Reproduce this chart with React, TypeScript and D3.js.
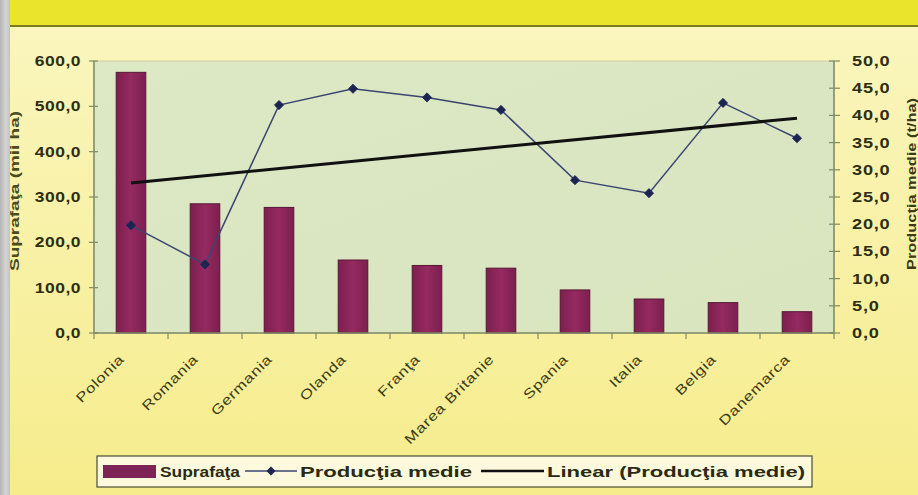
import React from "react";
import * as d3 from "d3";

const categories = ["Polonia", "Romania", "Germania", "Olanda", "Franţa", "Marea Britanie", "Spania", "Italia", "Belgia", "Danemarca"];
const suprafata = [575, 285, 277, 161, 149, 143, 95, 75, 67, 47];
const productia = [19.8, 12.6, 41.9, 44.9, 43.3, 41.0, 28.1, 25.7, 42.3, 35.8];
const leftTicks = [0, 100, 200, 300, 400, 500, 600];
const rightTicks = [0, 5, 10, 15, 20, 25, 30, 35, 40, 45, 50];

const W = 918, H = 495;
const plot = { left: 94, right: 834, top: 61, bottom: 333 };
const FONT = "'Liberation Sans', Arial, sans-serif";
const fmt = (v: number) => v.toFixed(1).replace(".", ",");

function Diamond({ x, y, r = 4.6 }: { x: number; y: number; r?: number }) {
  return <path d={`M${x},${y - r}L${x + r},${y}L${x},${y + r}L${x - r},${y}Z`} fill="#1c2552" stroke="#1c2552" strokeWidth={0.8} strokeLinejoin="round" />;
}

export default function App() {
  const x = d3.scaleBand<string>().domain(categories).range([plot.left, plot.right]).paddingInner(0.6).paddingOuter(0.3);
  const step = x.step();
  const yL = d3.scaleLinear().domain([0, 600]).range([plot.bottom, plot.top]);
  const yR = d3.scaleLinear().domain([0, 50]).range([plot.bottom, plot.top]);
  const cx = (c: string) => (x(c) as number) + x.bandwidth() / 2;

  const line = d3.line<number>().x((_, i) => cx(categories[i])).y((d) => yR(d));

  // linear trendline (least squares) of Productia medie
  const n = productia.length;
  const xs = d3.range(1, n + 1);
  const mx = d3.mean(xs) as number;
  const my = d3.mean(productia) as number;
  const slope = d3.sum(xs.map((xi, i) => (xi - mx) * (productia[i] - my))) / d3.sum(xs.map((xi) => (xi - mx) ** 2));
  const icpt = my - slope * mx;
  const t0 = icpt + slope * 1, t1 = icpt + slope * n;

  const bounds = d3.range(n + 1).map((i) => plot.left + i * step);
  const txt = "#2e2e12";

  return (
    <svg width={W} height={H} style={{ position: "fixed", left: 0, top: 0 }} fontFamily={FONT}>
      <defs>
        <linearGradient id="bg" x1="0" y1="0" x2="0" y2="1">
          <stop offset="0" stopColor="#faf6c0" />
          <stop offset="1" stopColor="#f6ec8c" />
        </linearGradient>
        <linearGradient id="plotbg" x1="0" y1="0" x2="1" y2="1">
          <stop offset="0" stopColor="#dde8c4" />
          <stop offset="1" stopColor="#d8e5bf" />
        </linearGradient>
        <linearGradient id="bar" x1="0" y1="0" x2="1" y2="0">
          <stop offset="0" stopColor="#7c1f4f" />
          <stop offset="0.5" stopColor="#952a60" />
          <stop offset="1" stopColor="#7c1f4f" />
        </linearGradient>
        <linearGradient id="gray" x1="0" y1="0" x2="1" y2="0">
          <stop offset="0" stopColor="#b4b4b4" />
          <stop offset="0.6" stopColor="#d6d6d6" />
          <stop offset="1" stopColor="#c2c2c2" />
        </linearGradient>
      </defs>
      <rect x={0} y={0} width={W} height={H} fill="url(#bg)" />
      <rect x={0} y={0} width={W} height={25} fill="#ebe42c" />
      <rect x={0} y={25} width={W} height={2} fill="#7c7a1c" />

      {/* plot area */}
      <rect x={plot.left} y={plot.top} width={plot.right - plot.left} height={plot.bottom - plot.top} fill="url(#plotbg)" stroke="#c9cfa8" strokeWidth={1} />

      {/* bars */}
      {categories.map((c, i) => (
        <rect key={c} x={x(c)} y={yL(suprafata[i])} width={x.bandwidth()} height={plot.bottom - yL(suprafata[i])} fill="url(#bar)" stroke="#561834" strokeWidth={1} />
      ))}

      {/* axes */}
      <line x1={plot.left} x2={plot.left} y1={plot.top} y2={plot.bottom} stroke="#7f8a66" strokeWidth={1.5} />
      <line x1={plot.right} x2={plot.right} y1={plot.top} y2={plot.bottom} stroke="#7f8a66" strokeWidth={1.5} />
      <line x1={plot.left} x2={plot.right} y1={plot.bottom} y2={plot.bottom} stroke="#7f8a66" strokeWidth={1.5} />
      {leftTicks.map((t) => (
        <g key={"l" + t}>
          <line x1={plot.left - 5} x2={plot.left + 4} y1={yL(t)} y2={yL(t)} stroke="#7f8a66" strokeWidth={1.2} />
          <text transform={`translate(81,${yL(t)}) scale(1.25,1)`} dy="0.36em" textAnchor="end" fontSize={14} fontWeight="bold" fill={txt} letterSpacing={0.4}>{fmt(t)}</text>
        </g>
      ))}
      {rightTicks.map((t) => (
        <g key={"r" + t}>
          <line x1={plot.right - 5} x2={plot.right + 6} y1={yR(t)} y2={yR(t)} stroke="#7f8a66" strokeWidth={1.2} />
          <text transform={`translate(852,${yR(t)}) scale(1.3,1)`} dy="0.36em" textAnchor="start" fontSize={14} fontWeight="bold" fill={txt} letterSpacing={0.6}>{fmt(t)}</text>
        </g>
      ))}
      {bounds.map((b, i) => (
        <line key={"b" + i} x1={b} x2={b} y1={plot.bottom} y2={plot.bottom + 6} stroke="#7f8a66" strokeWidth={1.2} />
      ))}

      {/* category labels */}
      {categories.map((c) => (
        <text key={"c" + c} transform={`translate(${cx(c) - 6},${plot.bottom + 27}) rotate(-45) scale(1.25,1)`} textAnchor="end" fontSize={13.5} fill="#3a3a14" letterSpacing={0.6}>{c}</text>
      ))}

      {/* axis titles */}
      <text transform={`translate(19,191) rotate(-90)`} textAnchor="middle" fontSize={13} fontWeight="bold" fill="#4a4a20" textLength={160} lengthAdjust="spacingAndGlyphs">Suprafaţa (mii ha)</text>
      <text transform={`translate(916,184) rotate(-90)`} textAnchor="middle" fontSize={13.5} fontWeight="bold" fill="#3a3a14" textLength={172} lengthAdjust="spacingAndGlyphs">Producţia medie (t/ha)</text>
      <rect x={0} y={0} width={10} height={H} fill="url(#gray)" />

      {/* production line */}
      <path d={line(productia) as string} fill="none" stroke="#3a4670" strokeWidth={1.5} />
      {productia.map((v, i) => (
        <Diamond key={"m" + i} x={cx(categories[i])} y={yR(v)} />
      ))}

      {/* trendline */}
      <line x1={cx(categories[0])} x2={cx(categories[n - 1])} y1={yR(t0)} y2={yR(t1)} stroke="#111" strokeWidth={3} />

      {/* legend */}
      <g>
        <rect x={97} y={456} width={715} height={31} fill="#fcf9dc" stroke="#4a4a3a" strokeWidth={1.2} />
        <rect x={103} y={465} width={53} height={13} fill="#7e2356" />
        <text x={160} y={477} fontSize={14} fontWeight="bold" fill="#2a2a14" textLength={80} lengthAdjust="spacingAndGlyphs">Suprafaţa</text>
        <line x1={245} x2={297} y1={471} y2={471} stroke="#3a4670" strokeWidth={1.5} />
        <Diamond x={271} y={471} r={4.2} />
        <text x={300} y={477} fontSize={14} fontWeight="bold" fill="#2a2a14" textLength={172} lengthAdjust="spacingAndGlyphs">Producţia medie</text>
        <line x1={481} x2={544} y1={471} y2={471} stroke="#111" strokeWidth={2.5} />
        <text x={547} y={477} fontSize={14} fontWeight="bold" fill="#2a2a14" textLength={258} lengthAdjust="spacingAndGlyphs">Linear (Producţia medie)</text>
      </g>
    </svg>
  );
}
